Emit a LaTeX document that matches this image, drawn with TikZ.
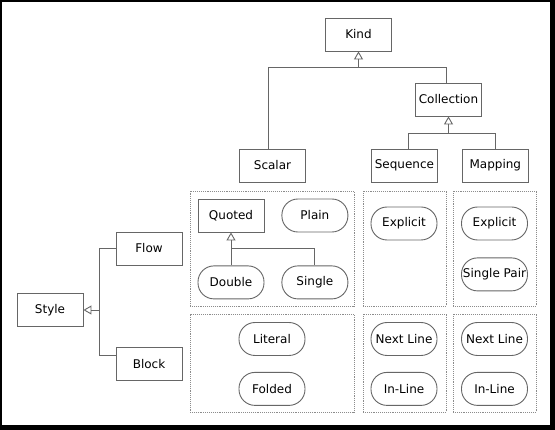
\documentclass[tikz,border=0pt]{standalone}
\usepackage{fontspec}
\setmainfont{DejaVu Sans}
\usepackage{tikz}
\usetikzlibrary{arrows.meta, positioning, calc}
\tikzstyle{cls} = [rectangle, minimum width=66pt, minimum height=33pt, inner sep=0pt, text centered, draw=black!60, line width=0.9pt, font=\fontsize{12}{14}\selectfont]
\tikzstyle{val} = [cls, rounded corners=16pt]
\tikzstyle{group} = [rectangle, draw=black!45, densely dotted, line width=0.9pt, inner sep=0pt]
\tikzstyle{link} = [draw=black!60, line width=0.9pt]
\tikzstyle{inherit} = [link, -{Triangle[open, length=8pt, width=9pt]}]

\begin{document}
\begin{tikzpicture}[x=1pt, y=-1pt]
    \fill[black] (0,0) rectangle (555,430);
    \fill[white] (2,2) rectangle (550,425);
    \useasboundingbox (0,0) rectangle (555,430);

    % kinds
    \node[cls] (kind) at (358.5,34.5) {Kind};
    \node[cls] (collection) at (448.5,99.5) {Collection};
    \node[cls] (scalar) at (272.5,165.5) {Scalar};
    \node[cls, right=65pt of scalar] (sequence) {Sequence};
    \node[cls, right=24pt of sequence] (mapping) {Mapping};

    % styles
    \node[cls] (style) at (50,310) {Style};
    \node[cls] (flow) at (149,248.5) {Flow};
    \node[cls, below=82pt of flow] (block) {Block};

    % groups
    \node[group, minimum width=164pt, minimum height=115pt] (flowscalar) at (272,248.5) {};
    \node[group, minimum width=83pt, minimum height=115pt] (flowseq) at (404.5,248.5) {};
    \node[group, minimum width=83pt, minimum height=115pt] (flowmap) at (494.5,248.5) {};
    \node[group, minimum width=164pt, minimum height=98pt] (blockscalar) at (272,363) {};
    \node[group, minimum width=83pt, minimum height=98pt] (blockseq) at (404.5,363) {};
    \node[group, minimum width=83pt, minimum height=98pt] (blockmap) at (494.5,363) {};

    \node[cls] (quoted) at (231,215.5) {Quoted};
    \node[val, right=17pt of quoted] (plain) {Plain};
    \node[val, below=33pt of quoted] (double) {Double};
    \node[val, below=33pt of plain] (single) {Single};
    \node[val] (seqexplicit) at (404,223.5) {Explicit};
    \node[val] (mapexplicit) at (494.5,223.5) {Explicit};
    \node[val, below=17pt of mapexplicit] (singlepair) {Single Pair};

    \node[val] (literal) at (272,339) {Literal};
    \node[val, below=16pt of literal] (folded) {Folded};
    \node[val] (seqnext) at (404,339) {Next Line};
    \node[val, below=16pt of seqnext] (seqinline) {In-Line};
    \node[val] (mapnext) at (494.5,339) {Next Line};
    \node[val, below=16pt of mapnext] (mapinline) {In-Line};

    \coordinate (kindbar) at ($(kind.south)+(0,16)$);
    \coordinate (collbar) at ($(collection.south)+(0,17)$);
    \coordinate (stylebar) at ($(style.east)+(16,0)$);
    \coordinate (quotedbar) at ($(quoted.south)+(0,16)$);

    \draw[link] ([xshift=-4.5pt]scalar.north) |- (kindbar) -| ([xshift=-2.5pt]collection.north);
    \draw[inherit] (kindbar) -- (kind.south);
    \draw[link] ([xshift=4pt]sequence.north) |- (collbar) -| (mapping.north);
    \draw[inherit] (collbar) -- (collection.south);
    \draw[link] (flow.west) -| (stylebar) |- ([yshift=8.5pt]block.west);
    \draw[inherit] (stylebar) -- (style.east);
    \draw[link] (double.north) |- (quotedbar) -| (single.north);
    \draw[inherit] (quotedbar) -- (quoted.south);
\end{tikzpicture}
\end{document}
